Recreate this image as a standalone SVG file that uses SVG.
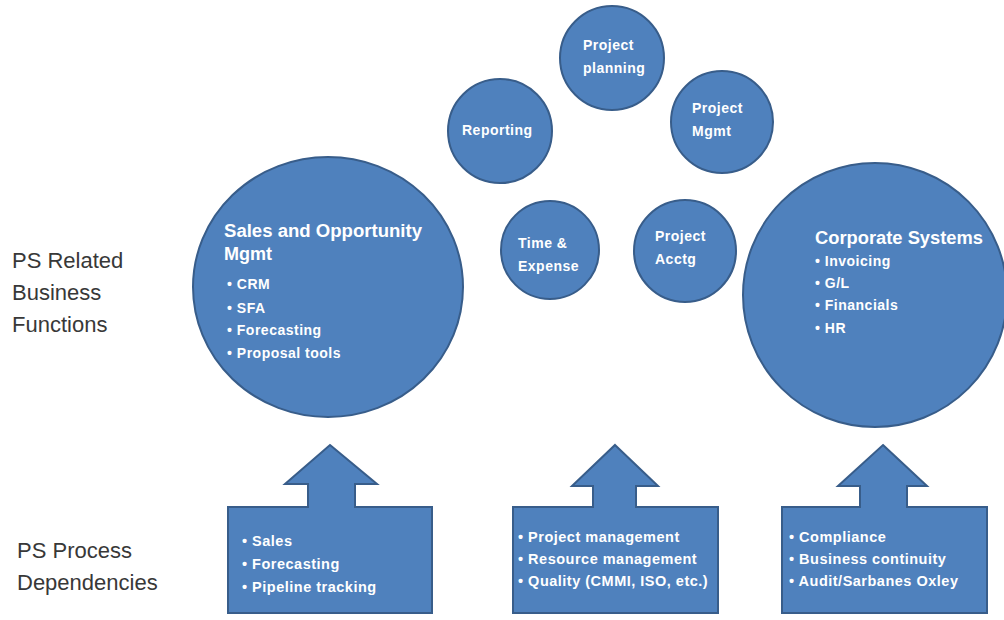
<svg xmlns="http://www.w3.org/2000/svg" width="1004" height="620" viewBox="0 0 1004 620">
  <style>
    .shape { fill: #4F81BD; stroke: #385D8A; stroke-width: 2; }
    .lbl { fill: #ffffff; font-family: "Liberation Sans", Arial, sans-serif; font-weight: bold; font-size: 14px; letter-spacing: 0.5px; }
    .box { fill: #ffffff; font-family: "Liberation Sans", Arial, sans-serif; font-weight: bold; font-size: 14.5px; letter-spacing: 0.5px; }
    .ttl { fill: #ffffff; font-family: "Liberation Sans", Arial, sans-serif; font-weight: bold; font-size: 18px; }
    .side { fill: #383838; font-family: "Liberation Sans", Arial, sans-serif; font-size: 22px; }
  </style>
  <rect width="1004" height="620" fill="#ffffff"/>

  <!-- row captions -->
  <g id="caption-functions">
    <text class="side" x="12" y="268">PS Related</text>
    <text class="side" x="12" y="300">Business</text>
    <text class="side" x="12" y="332">Functions</text>
  </g>
  <g id="caption-dependencies">
    <text class="side" x="17" y="558">PS Process</text>
    <text class="side" x="17" y="590">Dependencies</text>
  </g>

  <!-- business function circles -->
  <g id="sales-opportunity">
    <ellipse class="shape" cx="328" cy="287" rx="135" ry="130"/>
    <text class="ttl" x="224" y="237" textLength="198" lengthAdjust="spacingAndGlyphs">Sales and Opportunity</text>
    <text class="ttl" x="224" y="260">Mgmt</text>
    <text class="lbl" x="227" y="289">• CRM</text>
    <text class="lbl" x="227" y="313">• SFA</text>
    <text class="lbl" x="227" y="335">• Forecasting</text>
    <text class="lbl" x="227" y="358">• Proposal tools</text>
  </g>

  <g id="corporate-systems">
    <circle class="shape" cx="875" cy="295" r="132"/>
    <text class="ttl" x="815" y="244" textLength="168" lengthAdjust="spacingAndGlyphs">Corporate Systems</text>
    <text class="lbl" x="815" y="266">• Invoicing</text>
    <text class="lbl" x="815" y="288">• G/L</text>
    <text class="lbl" x="815" y="310">• Financials</text>
    <text class="lbl" x="815" y="333">• HR</text>
  </g>

  <g id="project-planning">
    <circle class="shape" cx="612" cy="58" r="52"/>
    <text class="lbl" x="583" y="50">Project</text>
    <text class="lbl" x="583" y="73">planning</text>
  </g>

  <g id="reporting">
    <circle class="shape" cx="500" cy="131" r="52"/>
    <text class="lbl" x="462" y="135">Reporting</text>
  </g>

  <g id="project-mgmt">
    <circle class="shape" cx="722" cy="122" r="51"/>
    <text class="lbl" x="692" y="113">Project</text>
    <text class="lbl" x="692" y="136">Mgmt</text>
  </g>

  <g id="time-expense">
    <circle class="shape" cx="550" cy="250" r="49"/>
    <text class="lbl" x="518" y="248">Time &amp;</text>
    <text class="lbl" x="518" y="271">Expense</text>
  </g>

  <g id="project-acctg">
    <circle class="shape" cx="685" cy="251" r="51"/>
    <text class="lbl" x="655" y="241">Project</text>
    <text class="lbl" x="655" y="264">Acctg</text>
  </g>

  <!-- process dependency callouts with up arrows -->
  <g id="sales-dependencies">
    <path class="shape" d="M330,445 L377,484 L355,484 L355,507 L432,507 L432,613 L228,613 L228,507 L308,507 L308,484 L285,484 Z"/>
    <text class="box" x="242" y="546">• Sales</text>
    <text class="box" x="242" y="569">• Forecasting</text>
    <text class="box" x="242" y="592">• Pipeline tracking</text>
  </g>

  <g id="project-dependencies">
    <path class="shape" d="M615,445 L658,486 L636,486 L636,507 L718,507 L718,613 L513,613 L513,507 L593,507 L593,486 L572,486 Z"/>
    <text class="box" x="518" y="542">• Project management</text>
    <text class="box" x="518" y="564">• Resource management</text>
    <text class="box" x="518" y="586">• Quality (CMMI, ISO, etc.)</text>
  </g>

  <g id="corporate-dependencies">
    <path class="shape" d="M883,445 L927,486 L907,486 L907,507 L987,507 L987,613 L782,613 L782,507 L860,507 L860,486 L838,486 Z"/>
    <text class="box" x="789" y="542">• Compliance</text>
    <text class="box" x="789" y="564">• Business continuity</text>
    <text class="box" x="789" y="586">• Audit/Sarbanes Oxley</text>
  </g>

  <!-- no separate connectors: the arrows are part of the callout shapes -->
  <g id="connectors"/>
</svg>
